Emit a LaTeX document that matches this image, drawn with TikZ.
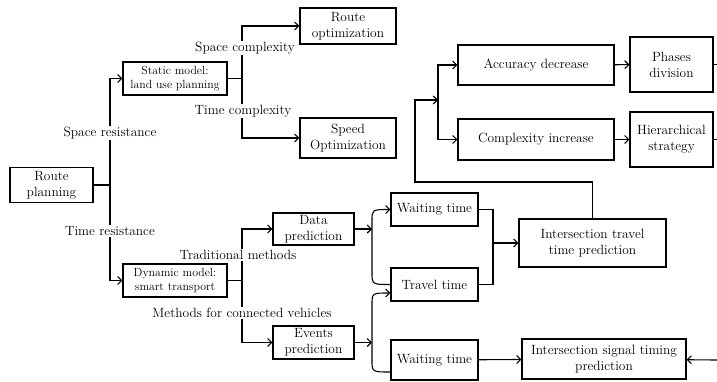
\documentclass[tikz,border=0pt]{standalone}
\usepackage{tikz}
\usetikzlibrary{arrows.meta}

\begin{document}
\begin{tikzpicture}[x=1pt, y=-1pt, line width=1.1pt,
	box/.style={draw, align=center, inner sep=0pt, font=\fontsize{13.4}{16}\selectfont},
	smallbox/.style={box, font=\fontsize{11.8}{13.5}\selectfont},
	branch/.style={fill=white, inner sep=1pt, font=\fontsize{13.4}{16}\selectfont},
	arr/.style={-{Straight Barb[length=4pt,width=8pt]}}]
	\useasboundingbox (0, 0) rectangle (717, 381);

	\node[box, minimum width=83pt, minimum height=35pt] (plan) at (51.5, 185) {Route\\planning};
	\node[smallbox, minimum width=104pt, minimum height=33pt] (static) at (175, 78.5) {Static model:\\land use planning};
	\node[smallbox, minimum width=104pt, minimum height=33pt] (dynamic) at (175, 280.5) {Dynamic model:\\smart transport};

	\node[box, minimum width=96pt, minimum height=36pt] (routeopt) at (348, 26) {Route\\optimization};
	\node[box, minimum width=96pt, minimum height=40pt] (speedopt) at (348, 138) {Speed\\Optimization};
	\node[box, minimum width=81pt, minimum height=32pt] (datapred) at (313.5, 229) {Data\\prediction};
	\node[box, minimum width=81pt, minimum height=33pt] (eventpred) at (313.5, 342.5) {Events\\prediction};

	\node[box, minimum width=87pt, minimum height=33pt] (wait1) at (434.5, 209.5) {Waiting time};
	\node[box, minimum width=87pt, minimum height=33pt] (travel) at (434.5, 284.5) {Travel time};
	\node[box, minimum width=87pt, minimum height=40pt] (wait2) at (434.5, 360) {Waiting time};
	\node[box, minimum width=147pt, minimum height=48pt] (itt) at (592.5, 243) {Intersection travel\\time prediction};
	\node[box, minimum width=164pt, minimum height=40pt] (ist) at (604, 359) {Intersection signal timing\\prediction};

	\node[box, minimum width=156pt, minimum height=40pt] (acc) at (536, 65) {Accuracy decrease};
	\node[box, minimum width=156pt, minimum height=41pt] (cplx) at (536, 139.5) {Complexity increase};
	\node[box, minimum width=83pt, minimum height=55pt] (phase) at (671.5, 64.5) {Phases\\division};
	\node[box, minimum width=83pt, minimum height=55pt] (hier) at (671.5, 139.5) {Hierarchical\\strategy};

	\coordinate (j1) at (110, 185);
	\coordinate (j2) at (242, 78.5);
	\coordinate (j3) at (242, 280.5);
	\coordinate (c1) at (372, 229);
	\coordinate (c2) at (372, 342.5);
	\coordinate (m) at (493, 243);
	\coordinate (s) at (438, 100);
	\coordinate (e1) at (717, 64.5);
	\coordinate (e2) at (717, 139.5);
	\coordinate (e3) at (717, 360);

	\draw (plan) -- (j1);
	\draw[arr] (j1) |- (static);
	\draw[arr] (j1) |- (dynamic);
	\node[branch] at (110, 133) {Space resistance};
	\node[branch] at (110, 231) {Time resistance};

	\draw (static) -- (j2);
	\draw[arr] (j2) |- (routeopt);
	\draw[arr] (j2) |- (speedopt);
	\node[branch] at (245, 48) {Space complexity};
	\node[branch] at (243, 111) {Time complexity};

	\draw (dynamic) -- (j3);
	\draw[arr] (j3) |- (datapred);
	\draw[arr] (j3) |- (eventpred);
	\node[branch] at (238, 255) {Traditional methods};
	\node[branch] at (242, 313) {Methods for connected vehicles};

	\draw[arr] (datapred) -- (c1);
	\draw[arr] (c1) -- (372, 221) .. controls (372, 209.5) .. (wait1.west);
	\draw (c1) -- (372, 272) .. controls (372, 284.5) .. (travel.west);
	\draw[arr] (eventpred) -- (c2);
	\draw[arr] (c2) -- (372, 305) .. controls (372, 293) .. ([yshift=-8.5pt]travel.west);
	\draw (c2) -- (372, 360) .. controls (372, 372) .. ([yshift=-12pt]wait2.west);

	\draw (wait1) -| (m);
	\draw (travel) -| (m);
	\draw[arr] (m) -- (itt);
	\draw[arr] (wait2) -- (ist);
	\draw[arr] (e3) -- (ist);

	\draw[arr] (itt.north) |- (415, 182) -- (415, 100) -- (s);
	\draw[arr] (s) |- (acc);
	\draw[arr] (s) |- (cplx);
	\draw[arr] (acc) -- (phase);
	\draw[arr] (cplx) -- (hier);
	\draw (phase) -- (e1);
	\draw (hier) -- (e2);
\end{tikzpicture}
\end{document}
